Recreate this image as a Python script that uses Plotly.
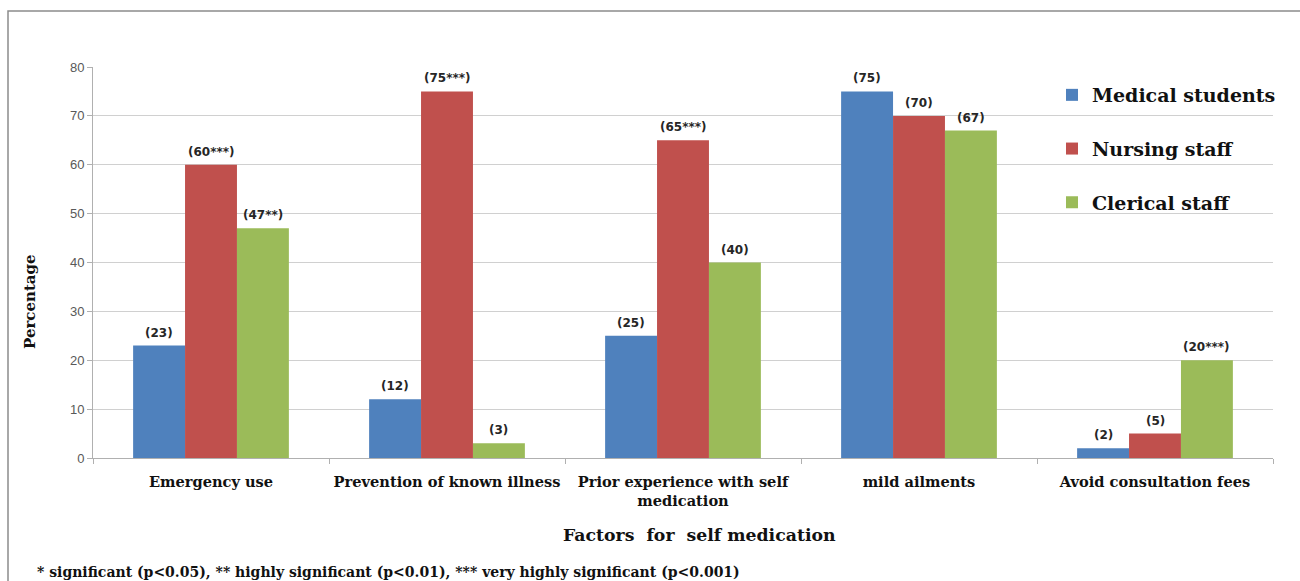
import plotly.graph_objects as go

categories = ["Emergency use", "Prevention of known illness",
              "Prior experience with self<br>medication", "mild ailments",
              "Avoid consultation fees"]
series_names = ["Medical students", "Nursing staff", "Clerical staff"]
medical = [23, 12, 25, 75, 2]
nursing = [60, 75, 65, 70, 5]
clerical = [47, 3, 40, 67, 20]
medical_labels = ["(23)", "(12)", "(25)", "(75)", "(2)"]
nursing_labels = ["(60***)", "(75***)", "(65***)", "(70)", "(5)"]
clerical_labels = ["(47**)", "(3)", "(40)", "(67)", "(20***)"]
y_ticks = [0, 10, 20, 30, 40, 50, 60, 70, 80]
colors = ["#4F81BD", "#C0504D", "#9BBB59"]

W, H = 1300, 581
L, R, T, B = 93, 1273, 67, 458
pw, ph = R - L, B - T

def px(x):
    return (x - L) / pw

def py(y):
    return (B - y) / ph

serif = "DejaVu Serif"
sans = "DejaVu Sans"

all_vals = [medical, nursing, clerical]
all_labs = [medical_labels, nursing_labels, clerical_labels]

fig = go.Figure()
for i, (name, vals) in enumerate(zip(series_names, all_vals)):
    fig.add_trace(go.Bar(
        x=categories, y=vals, name="<b>" + name + "</b>",
        marker=dict(color=colors[i], line=dict(width=0)),
        legendgroup=name,
    ))

bar_px = 0.66 * pw / len(categories) / 3
for i, (vals, labs) in enumerate(zip(all_vals, all_labs)):
    for c, v, t in zip(categories, vals, labs):
        fig.add_annotation(x=c, y=v, text="<b>" + t + "</b>", showarrow=False,
                           xref="x", yref="y", xanchor="center", yanchor="bottom",
                           xshift=(i - 1) * bar_px, yshift=4,
                           font=dict(family=sans, size=12, color="#262626"))

fig.update_layout(
    width=W, height=H,
    margin=dict(l=L, r=W - R, t=T, b=H - B),
    paper_bgcolor="white", plot_bgcolor="white",
    barmode="group", bargap=0.34, bargroupgap=0,
    showlegend=True,
    legend=dict(x=px(1052), y=py(76), xanchor="left", yanchor="top",
                bgcolor="rgba(0,0,0,0)", tracegroupgap=26,
                font=dict(family=serif, size=19, color="#111"),
                itemwidth=30),
    xaxis=dict(showline=True, linecolor="#b0b0b0", linewidth=1,
               ticks="outside", tickson="boundaries", ticklen=5, tickcolor="#b0b0b0",
               tickfont=dict(family=serif, size=14.6, color="#111"),
               ticklabelstandoff=10,
               tickprefix="<b>", ticksuffix="</b>"),
    yaxis=dict(range=[0, 80], tickvals=y_ticks, showline=True, linecolor="#b0b0b0",
               linewidth=1, ticks="outside", ticklen=5, tickcolor="#b0b0b0",
               showgrid=True, gridcolor="#d0d0d0", gridwidth=1,
               tickfont=dict(family="Liberation Sans", size=13, color="#595959"),
               zeroline=False),
    font=dict(family=serif),
)

fig.add_annotation(text="<b>Factors  for  self medication</b>", xref="paper", yref="paper",
                   x=px(699), y=py(535), xanchor="center", yanchor="middle",
                   showarrow=False, font=dict(family=serif, size=17.3, color="#111"))
fig.add_annotation(text="<b>Percentage</b>", xref="paper", yref="paper",
                   x=px(30), y=py(302), xanchor="center", yanchor="middle", textangle=-90,
                   showarrow=False, font=dict(family=serif, size=15, color="#111"))
fig.add_annotation(text="<b>* significant (p<0.05), ** highly significant (p<0.01), *** very highly significant (p<0.001)</b>",
                   xref="paper", yref="paper", x=px(35), y=py(572), xanchor="left", yanchor="middle",
                   showarrow=False, font=dict(family=serif, size=14, color="#111"))

fig.add_shape(type="rect", xref="paper", yref="paper",
              x0=px(8), x1=px(1320), y0=py(600), y1=py(11),
              line=dict(color="#8c8c8c", width=1.5), fillcolor="rgba(0,0,0,0)", layer="below")

fig.write_html("out.html", config={"displayModeBar": False},
               post_script="document.body.style.margin='0';document.body.style.overflow='hidden';")
